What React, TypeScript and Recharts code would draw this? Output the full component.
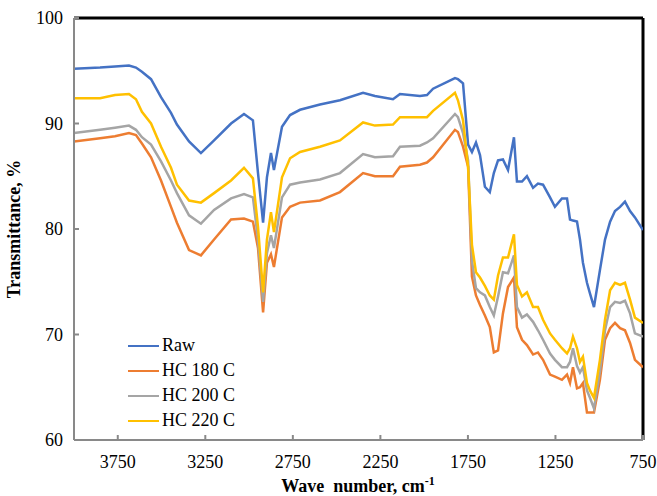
import React from 'react';
import { LineChart, Line, XAxis, YAxis, Legend, ReferenceLine, Label } from 'recharts';

// FTIR spectra, wave numbers in cm-1
const wavenumbers = [
  4000, 3851, 3766, 3686, 3646, 3612, 3560, 3503, 3446, 3412, 3343, 3275, 3200, 3103, 3029, 2978,
  2949, 2920, 2898, 2875, 2858, 2812, 2766, 2709, 2595, 2481, 2349, 2281, 2178, 2138, 2024, 1984,
  1949, 1824, 1807, 1778, 1749, 1727, 1704, 1681, 1653, 1625, 1602, 1578, 1550, 1521, 1487, 1470,
  1441, 1413, 1378, 1350, 1321, 1281, 1253, 1213, 1184, 1167, 1150, 1127, 1110, 1093, 1070, 1053,
  1030, 996, 967, 938, 910, 881, 853, 824, 796, 750,
];

const raw = [
  95.2, 95.3, 95.4, 95.5, 95.3, 94.9, 94.2, 92.5, 91.0, 89.9, 88.3, 87.2, 88.4, 90.0, 90.9, 90.3,
  85.3, 80.6, 84.9, 87.2, 85.6, 89.7, 90.8, 91.3, 91.8, 92.2, 92.9, 92.6, 92.3, 92.8, 92.6, 92.7,
  93.3, 94.3, 94.2, 93.8, 88.0, 87.3, 88.2, 87.0, 84.0, 83.5, 85.3, 86.5, 86.6, 85.6, 88.7, 84.5,
  84.5, 85.0, 83.9, 84.3, 84.2, 83.0, 82.1, 82.9, 82.9, 80.9, 80.8, 80.7, 79.0, 76.8, 74.9, 73.9,
  72.6, 76.1, 79.0, 80.7, 81.7, 82.1, 82.6, 81.7, 81.1, 79.9,
];

const hc180 = [
  88.3, 88.6, 88.8, 89.1, 88.9, 88.1, 86.8, 84.6, 82.1, 80.6, 78.0, 77.5, 79.0, 80.9, 81.0, 80.7,
  78.2, 72.1, 76.8, 77.6, 76.4, 81.1, 82.1, 82.5, 82.7, 83.5, 85.3, 85.0, 85.0, 85.9, 86.1, 86.3,
  86.8, 89.4, 89.2, 87.8, 85.9, 75.5, 73.7, 72.8, 71.8, 70.7, 68.3, 68.5, 72.0, 74.5, 75.4, 70.7,
  69.5, 69.0, 68.1, 68.3, 67.6, 66.2, 66.0, 65.7, 66.2, 65.4, 66.9, 64.9, 65.0, 65.4, 62.6, 62.6,
  62.6, 65.7, 69.5, 70.6, 71.1, 70.6, 70.4, 69.2, 67.6, 66.9,
];

const hc200 = [
  89.1, 89.4, 89.6, 89.8, 89.4, 88.7, 88.0, 86.4, 84.6, 83.4, 81.3, 80.5, 81.8, 82.9, 83.3, 83.0,
  79.0, 73.1, 77.7, 79.4, 78.2, 83.0, 84.2, 84.4, 84.7, 85.3, 87.1, 86.8, 86.9, 87.8, 87.9, 88.2,
  88.6, 90.9, 90.6, 89.1, 86.5, 77.0, 74.4, 74.0, 73.7, 72.6, 71.8, 73.6, 75.9, 75.8, 77.5, 72.6,
  71.6, 71.9, 71.2, 70.4, 69.5, 68.2, 67.6, 66.9, 66.9, 67.4, 68.7, 67.0, 66.4, 66.9, 64.7, 64.0,
  63.0, 66.5, 70.4, 72.6, 73.1, 73.0, 73.2, 72.0, 70.1, 69.8,
];

const hc220 = [
  92.4, 92.4, 92.7, 92.8, 92.3, 91.1, 90.0, 87.8, 85.8, 84.2, 82.7, 82.5, 83.4, 84.6, 85.8, 84.8,
  80.2, 74.0, 79.0, 81.6, 79.7, 84.9, 86.7, 87.3, 87.8, 88.4, 90.1, 89.8, 89.9, 90.6, 90.6, 90.6,
  91.2, 92.9, 92.2, 90.3, 85.9, 78.5, 75.9, 75.4, 74.6, 73.7, 73.3, 75.6, 77.3, 77.3, 79.5, 74.7,
  73.6, 74.0, 72.6, 72.6, 71.4, 70.1, 69.5, 68.7, 68.2, 68.7, 69.8, 68.7, 67.4, 67.9, 65.4, 64.7,
  64.0, 67.6, 71.4, 74.2, 74.9, 74.7, 74.9, 73.3, 71.6, 71.1,
];

const xTicks = [3750, 3250, 2750, 2250, 1750, 1250, 750];
const yTicks = [60, 70, 80, 90, 100];

const series = [
  { key: 'raw', name: 'Raw', color: '#4472C4' },
  { key: 'hc180', name: 'HC 180 C', color: '#ED7D31' },
  { key: 'hc200', name: 'HC 200 C', color: '#A5A5A5' },
  { key: 'hc220', name: 'HC 220 C', color: '#FFC000' },
];

const data = wavenumbers.map((wn, i) => ({
  wn,
  raw: raw[i],
  hc180: hc180[i],
  hc200: hc200[i],
  hc220: hc220[i],
}));

const FONT = '"Liberation Serif", "Times New Roman", serif';

const renderLegend = () => (
  <div style={{ fontFamily: FONT, fontSize: 18, color: '#000' }}>
    {series.map((s) => (
      <div key={s.key} style={{ display: 'flex', alignItems: 'center', height: 25 }}>
        <span style={{ display: 'inline-block', width: 31, borderTop: `2.5px solid ${s.color}`, marginRight: 3 }} />
        <span>{s.name}</span>
      </div>
    ))}
  </div>
);

const App = () => {
  return (
    <div style={{ position: 'absolute', left: 0, top: 0, background: '#fff' }}>
      <LineChart width={657} height={496} data={data} margin={{ top: 18, right: 14, bottom: 26, left: 24 }}>
        <XAxis
          dataKey="wn"
          type="number"
          domain={[750, 4000]}
          reversed
          ticks={xTicks}
          allowDataOverflow
          height={30}
          stroke="#898989"
          strokeWidth={2}
          tickSize={-5}
          tickMargin={20}
          tick={{ fill: '#000', fontSize: 18, fontFamily: FONT }}
        >
          <Label
            content={() => (
              <text
                x={358}
                y={492}
                textAnchor="middle"
                fontFamily={FONT}
                fontSize={18}
                fontWeight="bold"
                fill="#000"
                xmlSpace="preserve"
              >
                {'Wave\u00a0 number, cm'}
                <tspan dy={-7} fontSize={12}>-1</tspan>
              </text>
            )}
          />
        </XAxis>
        <YAxis
          type="number"
          domain={[60, 100]}
          ticks={yTicks}
          allowDataOverflow
          width={50}
          stroke="#898989"
          strokeWidth={2}
          tickSize={-5}
          tickMargin={16}
          tick={{ fill: '#000', fontSize: 18, fontFamily: FONT }}
        >
          <Label
            content={() => (
              <text
                x={20}
                y={229}
                transform="rotate(-90 20 229)"
                textAnchor="middle"
                fontFamily={FONT}
                fontSize={18}
                fontWeight="bold"
                fill="#000"
              >
                Transmittance, %
              </text>
            )}
          />
        </YAxis>
        <ReferenceLine y={100} stroke="#000" strokeWidth={3} />
        <ReferenceLine x={750} stroke="#000" strokeWidth={3} />
        {series.map((s) => (
          <Line
            key={s.key}
            type="linear"
            dataKey={s.key}
            name={s.name}
            stroke={s.color}
            strokeWidth={2.5}
            dot={false}
            isAnimationActive={false}
          />
        ))}
        <Legend
          layout="vertical"
          align="center"
          verticalAlign="middle"
          content={renderLegend}
          wrapperStyle={{ left: 128, top: 333, width: 130 }}
        />
      </LineChart>
    </div>
  );
};

export default App;
